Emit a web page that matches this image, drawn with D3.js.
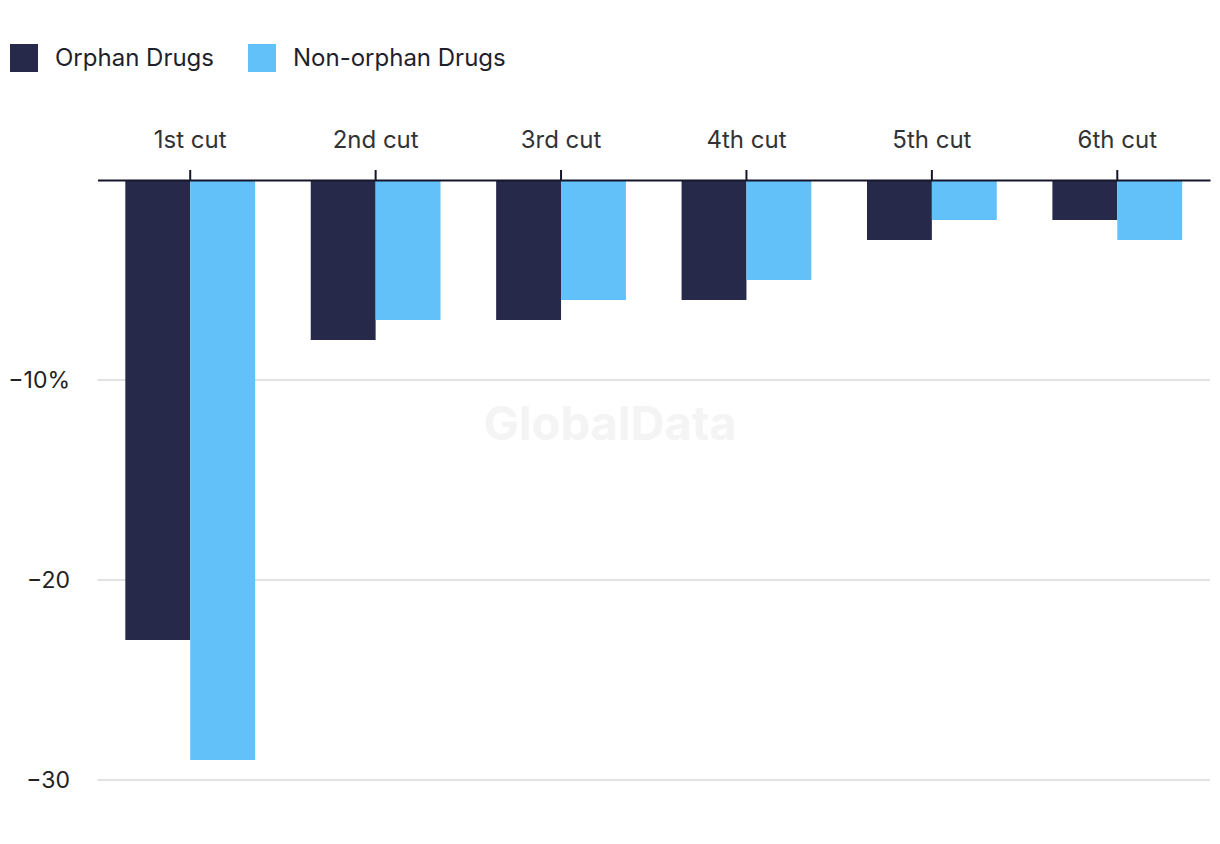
<!DOCTYPE html>
<html><head><meta charset="utf-8">
<script src="https://cdn.jsdelivr.net/npm/d3@7"></script>
<style>body{margin:0;background:#fff;} text{font-family:Inter,"Noto Sans",sans-serif;}</style>
</head><body>
<svg id="c" width="1220" height="844"></svg>
<script>
const categories = ["1st cut","2nd cut","3rd cut","4th cut","5th cut","6th cut"];
const seriesNames = ["Orphan Drugs","Non-orphan Drugs"];
const orphan = [-23,-8,-7,-6,-3,-2];
const nonOrphan = [-29,-7,-6,-5,-2,-3];
const yTicks = [-10,-20,-30];
const yTickLabels = ["−10%","−20","−30"];
const colors = ["#27294b","#63c1f9"];

const svg = d3.select("#c");
const x0 = 97.5, x1 = 1210;
const x = d3.scaleBand().domain(categories).range([x0,x1]).paddingInner(0.3).paddingOuter(0.15);
const xs = d3.scaleBand().domain(seriesNames).range([0,x.bandwidth()]);
const y = d3.scaleLinear().domain([0,-30]).range([180,780]);

// watermark
svg.append("text").attr("x",610).attr("y",440).attr("text-anchor","middle")
  .attr("font-size",47).attr("font-weight",700).attr("fill","#f4f4f4").text("GlobalData");

// gridlines
svg.append("g").selectAll("line").data(yTicks).join("line")
  .attr("x1",x0).attr("x2",x1).attr("y1",d=>y(d)).attr("y2",d=>y(d))
  .attr("stroke","#d9d9d9").attr("stroke-width",1.5);
svg.append("g").selectAll("text").data(yTicks).join("text")
  .attr("x",70).attr("y",d=>y(d)+8).attr("text-anchor","end")
  .attr("font-size",23).attr("fill","#222").text((d,i)=>yTickLabels[i]);

// bars
const data = categories.map((c,i)=>({c, vals:[orphan[i],nonOrphan[i]]}));
const g = svg.append("g").selectAll("g").data(data).join("g")
  .attr("transform",d=>`translate(${x(d.c)},0)`);
g.selectAll("rect").data(d=>d.vals.map((v,j)=>({v,s:seriesNames[j],j}))).join("rect")
  .attr("x",d=>xs(d.s)).attr("width",xs.bandwidth())
  .attr("y",y(0)).attr("height",d=>y(d.v)-y(0)).attr("fill",d=>colors[d.j]);

// top axis
const ax = svg.append("g").attr("transform","translate(0,180)")
  .call(d3.axisTop(x).tickSize(10).tickPadding(22).tickSizeOuter(0));
ax.select(".domain").attr("stroke","#16162a").attr("stroke-width",2);
ax.selectAll(".tick line").attr("stroke","#16162a").attr("stroke-width",2);
ax.selectAll(".tick text").attr("font-size",24).attr("fill","#333").attr("font-family",'Inter,"Noto Sans",sans-serif');

// legend
const leg = svg.append("g");
const legX = [10,248];
seriesNames.forEach((s,i)=>{
  leg.append("rect").attr("x",legX[i]).attr("y",44).attr("width",28).attr("height",28).attr("fill",colors[i]);
  leg.append("text").attr("x",legX[i]+45).attr("y",66).attr("font-size",24).attr("fill","#1f1f2e").text(s);
});
</script>
</body></html>
